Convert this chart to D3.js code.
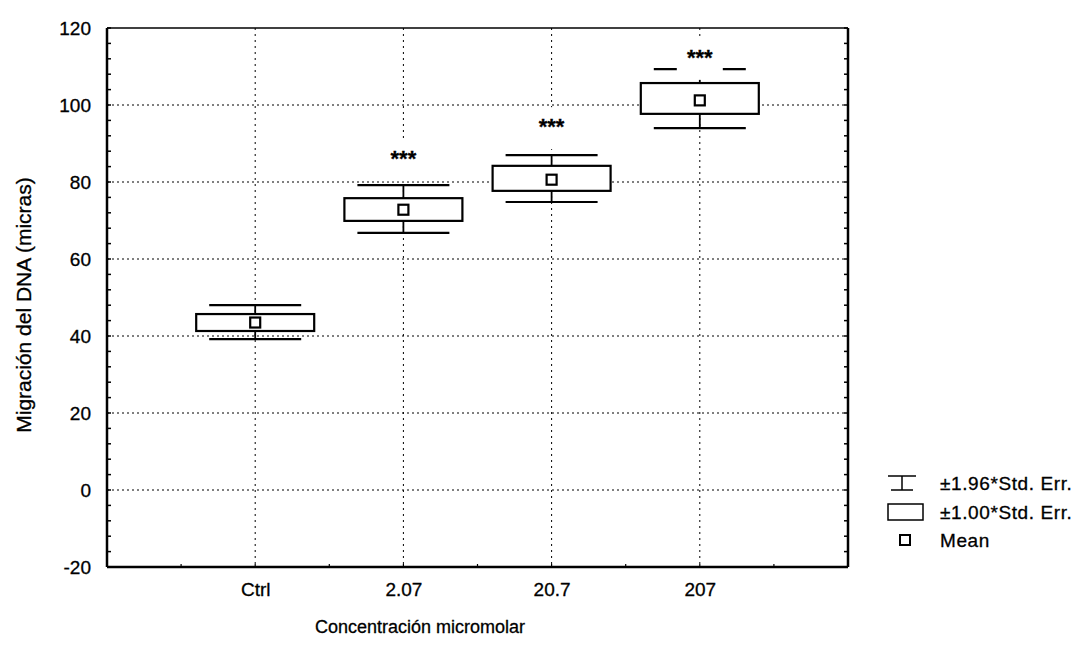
<!DOCTYPE html>
<html><head><meta charset="utf-8">
<script src="https://cdn.jsdelivr.net/npm/d3@7"></script>
<style>body{margin:0;background:#fff}svg{display:block}text{font-family:"Liberation Sans",Arial,sans-serif;fill:#000;stroke:#000;stroke-width:0.3px}</style>
</head><body>
<svg id="c" width="1081" height="647"></svg>
<script>
const categories = ["Ctrl", "2.07", "20.7", "207"];
const means      = [43.5, 72.8, 80.6, 101.2];
const boxLow     = [41.3, 69.9, 77.7, 97.7];
const boxHigh    = [45.7, 75.8, 84.2, 105.7];
const whiskLow   = [39.2, 66.8, 74.8, 94.0];
const whiskHigh  = [48.0, 79.2, 87.0, 109.3];
const signif     = ["", "***", "***", "***"];
const signifAt   = [null, 87.5, 95.8, 113.8];
const yTicks     = [-20, 0, 20, 40, 60, 80, 100, 120];
const gridY      = [0, 20, 40, 60, 80, 100];
const legendLabels = ["\u00b11.96*Std. Err.", "\u00b11.00*Std. Err.", "Mean"];

const svg = d3.select("#c");
const L = 107, R = 848, T = 28, B = 567;
const x = d3.scaleLinear().domain([0, categories.length + 1]).range([L, R]);
const y = d3.scaleLinear().domain([-20, 120]).range([B, T]);

const g = svg.append("g");
// grid
g.selectAll(".gy").data(gridY).enter().append("line")
  .attr("x1", L).attr("x2", R).attr("y1", d => y(d)).attr("y2", d => y(d))
  .attr("stroke", "#000").attr("stroke-width", 1).attr("stroke-dasharray", "2,3");
g.selectAll(".gx").data(categories).enter().append("line")
  .attr("x1", (d, i) => x(i + 1)).attr("x2", (d, i) => x(i + 1)).attr("y1", T).attr("y2", B)
  .attr("stroke", "#000").attr("stroke-width", 1).attr("stroke-dasharray", "2,4");

// axes
const yAxis = d3.axisLeft(y).tickValues(yTicks).tickSize(0).tickPadding(16).tickFormat(d => String(d));
const ya = svg.append("g").attr("transform", `translate(${L},0)`).call(yAxis);
ya.select(".domain").remove();
ya.selectAll("text").style("font-size", "19px").attr("dy", "0.36em");

const xAxis = d3.axisBottom(x).tickValues(categories.map((d, i) => i + 1))
  .tickFormat((d, i) => categories[i]).tickSize(0).tickPadding(16);
const xa = svg.append("g").attr("transform", `translate(0,${B})`).call(xAxis);
xa.select(".domain").remove();
xa.selectAll("text").style("font-size", "19px");

// minor ticks (inward)
const minor = d3.range(-20, 121, 4);
svg.selectAll(".mtl").data(minor).enter().append("line")
  .attr("x1", L).attr("x2", L + 4).attr("y1", d => y(d)).attr("y2", d => y(d))
  .attr("stroke", "#000").attr("stroke-width", 1.5);
svg.selectAll(".mtr").data(minor).enter().append("line")
  .attr("x1", R - 4).attr("x2", R).attr("y1", d => y(d)).attr("y2", d => y(d))
  .attr("stroke", "#000").attr("stroke-width", 1.5);
const minorX = d3.range(0, categories.length + 1.01, 0.5);
svg.selectAll(".mtb").data(minorX).enter().append("line")
  .attr("x1", d => x(d)).attr("x2", d => x(d)).attr("y1", B).attr("y2", B - 3)
  .attr("stroke", "#000").attr("stroke-width", 1.2);

// boxes
const bw = 59, cw = 46, ms = 10;
const grp = svg.selectAll(".bx").data(categories).enter().append("g");
grp.append("line").attr("x1", (d, i) => x(i + 1)).attr("x2", (d, i) => x(i + 1))
  .attr("y1", (d, i) => y(whiskHigh[i])).attr("y2", (d, i) => y(whiskLow[i]))
  .attr("stroke", "#000").attr("stroke-width", 1.8);
grp.append("line").attr("x1", (d, i) => x(i + 1) - cw).attr("x2", (d, i) => x(i + 1) + cw)
  .attr("y1", (d, i) => y(whiskHigh[i])).attr("y2", (d, i) => y(whiskHigh[i]))
  .attr("stroke", "#000").attr("stroke-width", 2.2);
grp.append("line").attr("x1", (d, i) => x(i + 1) - cw).attr("x2", (d, i) => x(i + 1) + cw)
  .attr("y1", (d, i) => y(whiskLow[i])).attr("y2", (d, i) => y(whiskLow[i]))
  .attr("stroke", "#000").attr("stroke-width", 2.2);
grp.append("rect").attr("x", (d, i) => x(i + 1) - bw).attr("width", 2 * bw)
  .attr("y", (d, i) => y(boxHigh[i])).attr("height", (d, i) => y(boxLow[i]) - y(boxHigh[i]))
  .attr("fill", "#fff").attr("stroke", "#000").attr("stroke-width", 2.2);
grp.append("rect").attr("x", (d, i) => x(i + 1) - ms / 2).attr("width", ms)
  .attr("y", (d, i) => y(means[i]) - ms / 2).attr("height", ms)
  .attr("fill", "#fff").attr("stroke", "#000").attr("stroke-width", 2.2);

// significance labels with white backing
const sg = grp.filter((d, i) => signifAt[i] !== null);
sg.append("rect").attr("x", d => x(categories.indexOf(d) + 1) - 23).attr("width", 46)
  .attr("y", d => y(signifAt[categories.indexOf(d)]) - 14).attr("height", 42)
  .attr("fill", "#fff").attr("stroke", "none");
sg.append("text").attr("x", d => x(categories.indexOf(d) + 1))
  .attr("y", d => y(signifAt[categories.indexOf(d)]) + 13)
  .attr("text-anchor", "middle").style("font-size", "22px").style("font-weight", "bold")
  .text(d => signif[categories.indexOf(d)]);

// frame
svg.append("line").attr("x1", L).attr("x2", R).attr("y1", T).attr("y2", T).attr("stroke", "#000").attr("stroke-width", 1.5);
svg.append("line").attr("x1", L).attr("x2", L).attr("y1", T).attr("y2", B).attr("stroke", "#000").attr("stroke-width", 2.5);
svg.append("line").attr("x1", R).attr("x2", R).attr("y1", T).attr("y2", B).attr("stroke", "#000").attr("stroke-width", 2.5);
svg.append("line").attr("x1", L).attr("x2", R).attr("y1", B).attr("y2", B).attr("stroke", "#000").attr("stroke-width", 2.5);

// titles
svg.append("text").attr("x", 420).attr("y", 633).attr("text-anchor", "middle")
  .style("font-size", "18px").text("Concentración micromolar");
svg.append("text").attr("transform", "translate(31,305) rotate(-90)").attr("text-anchor", "middle")
  .style("font-size", "21px").text("Migración del DNA (micras)");

// legend
const lx = 888, ly = [483, 512, 540];
const lg = svg.append("g");
lg.append("line").attr("x1", lx).attr("x2", lx + 28).attr("y1", ly[0] - 7).attr("y2", ly[0] - 7).attr("stroke", "#000").attr("stroke-width", 1.5);
lg.append("line").attr("x1", lx + 14).attr("x2", lx + 14).attr("y1", ly[0] - 7).attr("y2", ly[0] + 7).attr("stroke", "#000").attr("stroke-width", 1.5);
lg.append("line").attr("x1", lx + 3).attr("x2", lx + 25).attr("y1", ly[0] + 7).attr("y2", ly[0] + 7).attr("stroke", "#000").attr("stroke-width", 1.5);
lg.append("rect").attr("x", lx).attr("y", ly[1] - 8).attr("width", 35).attr("height", 16)
  .attr("fill", "#fff").attr("stroke", "#000").attr("stroke-width", 1.5);
lg.append("rect").attr("x", lx + 12).attr("y", ly[2] - 5).attr("width", 10).attr("height", 10)
  .attr("fill", "#fff").attr("stroke", "#000").attr("stroke-width", 2);
lg.selectAll(".lt").data(legendLabels).enter().append("text")
  .attr("x", 940).attr("y", (d, i) => ly[i]).attr("dy", "0.36em")
  .style("font-size", "19px").style("letter-spacing", "0.6px").text(d => d);
</script>
</body></html>
